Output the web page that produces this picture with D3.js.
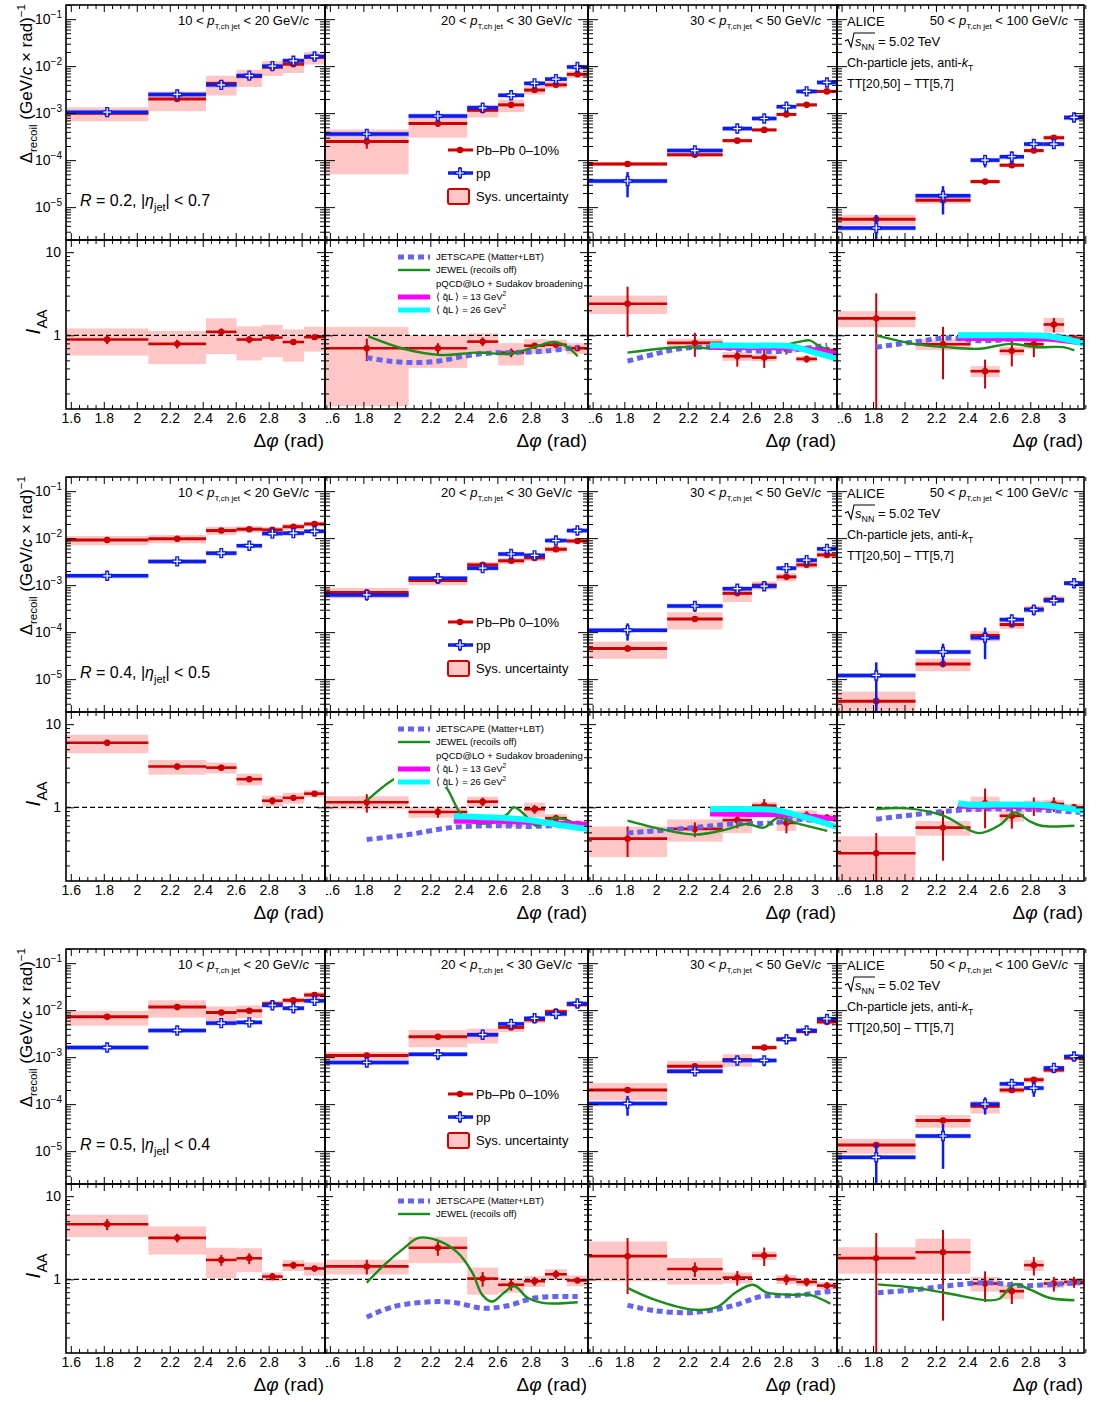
<!DOCTYPE html>
<html><head><meta charset="utf-8">
<script src="https://cdn.jsdelivr.net/npm/d3@7"></script>
<style>body{margin:0;background:#fff}</style>
</head><body>
<script>
// ---------------- DATA ----------------
const binEdges = [Math.PI/2, 2.07, 2.42, 2.605, 2.76, 2.885, 3.015, Math.PI];
const xMajor = [1.6,1.8,2,2.2,2.4,2.6,2.8,3];
const xMajorLabels = ["1.6","1.8","2","2.2","2.4","2.6","2.8","3"];
const ptLo = ["10","20","30","50"];
const ptHi = ["20","30","50","100"];
const rLabels = ["0.2","0.4","0.5"];
const etaLabels = ["0.7","0.5","0.4"];
const yTopMajor = [1e-5,1e-4,1e-3,1e-2,1e-1];
const yTopExp = ["−5","−4","−3","−2","−1"];
const yBotMajor = [1,10];
const yBotLabels = ["1","10"];

// R = 0.2
const R02_PbPb = [
 [1.0e-3,2.0e-3,4.3e-3,6.0e-3,9.5e-3,1.1e-2,1.55e-2],
 [2.5e-4,6.0e-4,1.15e-3,1.5e-3,3.1e-3,4.0e-3,6.7e-3],
 [8.3e-5,1.3e-4,2.6e-4,4.4e-4,9.4e-4,1.5e-3,2.9e-3],
 [5.5e-6,1.4e-5,3.5e-5,7.8e-5,1.6e-4,3.0e-4,8.0e-4]];
const R02_PbPbStat = [
 [0.1,0.1,0.1,0.08,0.08,0.08,0.06],
 [0.3,0.15,0.12,0.1,0.08,0.08,0.06],
 [0.08,0.15,0.1,0.1,0.08,0.06,0.06],
 [0.15,0.15,0.1,0.1,0.1,0.12,0.1]];
const R02_PbPbSys = [
 [0.33,0.45,0.45,0.4,0.35,0.35,0.3],
 [0.8,0.5,0.3,0.3,0.2,0.15,0.17],
 [0.1,0.1,0.1,0.08,0.08,0.08,0.08],
 [0.25,0.15,0.1,0.1,0.1,0.12,0.12]];
const R02_pp = [
 [1.05e-3,2.5e-3,4.0e-3,6.3e-3,1.0e-2,1.3e-2,1.6e-2],
 [3.6e-4,8.7e-4,1.3e-3,2.4e-3,4.3e-3,5.3e-3,9.6e-3],
 [3.6e-5,1.6e-4,4.7e-4,7.7e-4,1.37e-3,2.9e-3,4.5e-3],
 [3.6e-6,1.75e-5,1.0e-4,1.18e-4,2.2e-4,2.2e-4,8.1e-4]];
const R02_ppStat = [
 [0.1,0.1,0.1,0.08,0.08,0.08,0.08],
 [0.25,0.15,0.1,0.1,0.08,0.08,0.08],
 [0.55,0.25,0.15,0.12,0.1,0.08,0.08],
 [0.9,0.6,0.3,0.3,0.2,0.2,0.1]];
const R02_ppSys = [
 [0.12,0.12,0.12,0.12,0.12,0.12,0.12],
 [0.12,0.12,0.12,0.12,0.12,0.12,0.12],
 [0.12,0.12,0.12,0.12,0.12,0.12,0.12],
 [0.12,0.12,0.12,0.12,0.12,0.12,0.12]];
const R02_IAA = [
 [0.89,0.79,1.1,0.89,0.94,0.83,0.95],
 [0.70,0.70,0.84,0.62,0.75,0.77,0.70],
 [2.4,0.81,0.56,0.54,0.69,0.52,0.66],
 [1.6,0.78,0.37,0.65,0.78,1.35,0.92]];
const R02_IAAStat = [
 [0.12,0.12,0.1,0.1,0.08,0.06,0.06],
 [0.3,0.15,0.12,0.12,0.08,0.08,0.06],
 [0.6,0.32,0.25,0.25,0.15,0.1,0.1],
 [1.0,0.62,0.38,0.35,0.3,0.2,0.1]];
const R02_IAASys = [
 [0.36,0.43,0.46,0.44,0.42,0.42,0.33],
 [0.8,0.42,0.25,0.3,0.2,0.15,0.15],
 [0.25,0.12,0.12,0.1,0.1,0.08,0.08],
 [0.22,0.15,0.15,0.12,0.12,0.2,0.1]];
const R02_JETSCAPE = [null,
 [[1.82,0.54],[1.95,0.49],[2.1,0.47],[2.25,0.49],[2.4,0.56],[2.55,0.61],[2.7,0.62],[2.9,0.65],[3.08,0.72]],
 [[1.82,0.49],[2.0,0.6],[2.15,0.69],[2.36,0.72],[2.57,0.66],[2.78,0.64],[2.99,0.72],[3.08,0.76]],
 [[1.82,0.72],[2.06,0.83],[2.27,0.93],[2.48,0.86],[2.7,0.91],[2.84,1.0],[3.01,0.95],[3.12,0.84]]];
const R02_JEWEL = [null,
 [[1.83,0.97],[2.04,0.69],[2.26,0.58],[2.48,0.62],[2.68,0.6],[2.82,0.72],[2.94,0.83],[3.02,0.72],[3.08,0.56]],
 [[1.82,0.62],[2.15,0.72],[2.34,0.7],[2.6,0.72],[2.78,0.75],[2.91,0.84],[2.97,0.87],[3.04,0.72],[3.12,0.65]],
 [[1.82,1.0],[2.06,0.79],[2.27,0.72],[2.48,0.69],[2.67,0.79],[2.84,0.72],[3.01,0.72],[3.08,0.66]]];
const R02_Q13 = [null, null,
 [[2.34,0.72],[2.6,0.71],[2.9,0.7],[3.02,0.66],[3.14,0.6]],
 [[2.34,0.92],[2.6,0.91],[2.9,0.9],[3.14,0.8]]];
const R02_Q26 = [null, null,
 [[2.34,0.76],[2.6,0.75],[2.85,0.74],[3.0,0.62],[3.14,0.53]],
 [[2.34,1.0],[2.6,1.0],[2.9,0.98],[3.14,0.8]]];

// R = 0.4
const R04_PbPb = [
 [9.1e-3,9.7e-3,1.45e-2,1.55e-2,1.5e-2,1.75e-2,2.0e-2],
 [7.0e-4,1.25e-3,2.7e-3,3.3e-3,3.8e-3,5.8e-3,8.7e-3],
 [4.5e-5,1.9e-4,6.7e-4,1.0e-3,1.5e-3,2.7e-3,4.4e-3],
 [3.4e-6,2.1e-5,8.5e-5,1.45e-4,3.1e-4,5.0e-4,1.1e-3]];
const R04_PbPbStat = [
 [0.1,0.1,0.08,0.06,0.06,0.06,0.05],
 [0.15,0.12,0.1,0.08,0.08,0.08,0.06],
 [0.15,0.1,0.1,0.1,0.08,0.06,0.06],
 [0.3,0.15,0.12,0.1,0.1,0.1,0.08]];
const R04_PbPbSys = [
 [0.22,0.2,0.2,0.15,0.15,0.15,0.12],
 [0.25,0.2,0.15,0.15,0.15,0.15,0.12],
 [0.4,0.4,0.35,0.2,0.2,0.15,0.15],
 [0.6,0.3,0.25,0.2,0.15,0.15,0.1]];
const R04_pp = [
 [1.58e-3,3.2e-3,4.8e-3,6.9e-3,1.25e-2,1.28e-2,1.4e-2],
 [6.2e-4,1.4e-3,2.3e-3,4.6e-3,4.3e-3,8.9e-3,1.45e-2],
 [1.1e-4,3.6e-4,8.4e-4,9.5e-4,2.3e-3,3.4e-3,5.9e-3],
 [1.2e-5,3.8e-5,7.6e-5,1.85e-4,3.0e-4,4.7e-4,1.1e-3]];
const R04_ppStat = [
 [0.08,0.08,0.08,0.08,0.08,0.08,0.08],
 [0.25,0.15,0.15,0.12,0.12,0.1,0.08],
 [0.4,0.25,0.12,0.12,0.1,0.1,0.08],
 [0.9,0.5,0.65,0.3,0.25,0.15,0.1]];
const R04_ppSys = R02_ppSys;
const R04_IAA = [
 [5.97,3.09,3.0,2.18,1.2,1.3,1.46],
 [1.15,0.88,1.17,0.68,0.95,0.74,0.63],
 [0.42,0.55,0.7,1.05,0.65,0.8,0.75],
 [0.28,0.57,1.12,0.79,1.05,1.1,1.0]];
const R04_IAAStat = [
 [0.08,0.08,0.08,0.08,0.1,0.08,0.06],
 [0.25,0.15,0.12,0.12,0.12,0.1,0.06],
 [0.4,0.2,0.2,0.2,0.25,0.12,0.1],
 [0.75,0.6,0.5,0.3,0.25,0.2,0.1]];
const R04_IAASys = [
 [0.25,0.2,0.15,0.16,0.15,0.15,0.1],
 [0.18,0.15,0.15,0.15,0.2,0.12,0.1],
 [0.4,0.3,0.3,0.1,0.2,0.15,0.1],
 [0.6,0.2,0.2,0.15,0.15,0.12,0.1]];
const R04_JETSCAPE = [null,
 [[1.82,0.41],[2.07,0.47],[2.32,0.57],[2.57,0.6],[2.83,0.59],[3.12,0.64]],
 [[1.82,0.49],[2.24,0.57],[2.48,0.63],[2.75,0.65],[2.88,0.72],[3.08,0.65]],
 [[1.82,0.72],[2.05,0.81],[2.3,0.91],[2.5,0.95],[2.75,0.95],[2.95,0.91],[3.12,0.87]]];
const R04_JEWEL = [null,
 [[1.82,1.2],[1.97,2.1],[2.1,2.8],[2.22,2.6],[2.3,1.68],[2.41,0.72],[2.57,0.65],[2.66,0.83],[2.7,1.0],[2.77,0.79],[2.83,0.6],[2.95,0.75],[3.08,0.62]],
 [[1.82,0.69],[1.99,0.57],[2.24,0.47],[2.44,0.54],[2.57,0.63],[2.68,0.57],[2.77,0.75],[2.88,0.65],[3.08,0.52]],
 [[1.82,0.95],[2.02,0.97],[2.25,0.79],[2.47,0.49],[2.61,0.62],[2.7,0.87],[2.79,0.69],[2.87,0.6],[3.08,0.6]]];
const R04_Q13 = [null,
 [[2.34,0.68],[2.6,0.68],[2.8,0.66],[3.14,0.62]],
 [[2.34,0.83],[2.6,0.82],[2.9,0.8],[3.14,0.72]],
 [[2.34,1.03],[2.6,1.02],[2.9,1.0],[3.14,0.93]]];
const R04_Q26 = [null,
 [[2.34,0.78],[2.6,0.75],[2.8,0.7],[3.0,0.6],[3.14,0.55]],
 [[2.34,0.95],[2.6,0.95],[2.75,0.93],[2.95,0.75],[3.14,0.58]],
 [[2.34,1.12],[2.4,1.08],[2.6,1.08],[2.9,1.05],[3.14,0.9]]];

// R = 0.5
const R05_PbPb = [
 [7.2e-3,1.16e-2,8.9e-3,9.7e-3,1.37e-2,1.62e-2,2.1e-2],
 [1.08e-3,2.7e-3,3.0e-3,4.3e-3,6.2e-3,9.3e-3,1.31e-2],
 [2.0e-4,6.4e-4,8.9e-4,1.6e-3,2.4e-3,3.5e-3,5.6e-3],
 [1.35e-5,4.5e-5,9.0e-5,2.0e-4,3.3e-4,5.3e-4,9.6e-4]];
const R05_PbPbStat = [
 [0.1,0.08,0.08,0.08,0.06,0.06,0.06],
 [0.1,0.1,0.08,0.08,0.08,0.06,0.05],
 [0.1,0.1,0.1,0.08,0.08,0.08,0.06],
 [0.15,0.12,0.12,0.12,0.1,0.1,0.1]];
const R05_PbPbSys = [
 [0.35,0.4,0.35,0.3,0.15,0.15,0.15],
 [0.2,0.4,0.35,0.2,0.15,0.12,0.1],
 [0.4,0.3,0.3,0.12,0.12,0.1,0.1],
 [0.35,0.3,0.3,0.15,0.15,0.12,0.1]];
const R05_pp = [
 [1.6e-3,3.7e-3,5.3e-3,5.5e-3,1.27e-2,1.1e-2,1.58e-2],
 [7.7e-4,1.15e-3,3.0e-3,5.1e-3,6.7e-3,8.3e-3,1.38e-2],
 [1.03e-4,5.0e-4,8.5e-4,8.5e-4,2.4e-3,3.7e-3,6.5e-3],
 [7.4e-6,2.1e-5,1.0e-4,2.7e-4,2.2e-4,5.9e-4,1.03e-3]];
const R05_ppStat = [
 [0.06,0.06,0.08,0.08,0.08,0.06,0.06],
 [0.2,0.25,0.15,0.15,0.1,0.1,0.08],
 [0.45,0.2,0.15,0.25,0.1,0.1,0.08],
 [0.95,0.8,0.4,0.25,0.35,0.15,0.1]];
const R05_ppSys = R02_ppSys;
const R05_IAA = [
 [4.6,3.15,1.71,1.79,1.08,1.48,1.35],
 [1.43,2.4,1.02,0.86,0.95,1.15,0.97],
 [1.9,1.33,1.05,1.93,1.0,0.93,0.84],
 [1.8,2.12,0.89,0.72,1.48,0.89,0.93]];
const R05_IAAStat = [
 [0.15,0.12,0.15,0.15,0.1,0.1,0.08],
 [0.2,0.2,0.2,0.15,0.12,0.12,0.08],
 [0.65,0.2,0.2,0.25,0.15,0.12,0.1],
 [1.0,0.85,0.4,0.3,0.25,0.2,0.15]];
const R05_IAASys = [
 [0.3,0.37,0.4,0.32,0.12,0.15,0.18],
 [0.2,0.35,0.36,0.2,0.15,0.15,0.15],
 [0.5,0.35,0.15,0.12,0.12,0.1,0.1],
 [0.35,0.45,0.2,0.2,0.15,0.12,0.1]];
const R05_JETSCAPE = [null,
 [[1.82,0.35],[1.98,0.47],[2.24,0.54],[2.36,0.52],[2.51,0.45],[2.66,0.48],[2.83,0.6],[3.08,0.62]],
 [[1.82,0.49],[1.99,0.42],[2.24,0.4],[2.5,0.49],[2.66,0.62],[2.88,0.64],[3.1,0.72]],
 [[1.83,0.69],[2.07,0.75],[2.29,0.84],[2.52,0.91],[2.74,0.84],[2.95,0.87],[3.12,0.91]]];
const R05_JEWEL = [null,
 [[1.82,0.91],[1.92,1.46],[2.05,2.44],[2.13,3.15],[2.24,2.95],[2.36,2.12],[2.45,1.21],[2.51,0.65],[2.57,0.54],[2.64,0.69],[2.7,0.83],[2.78,0.6],[2.87,0.52],[3.08,0.53]],
 [[1.82,0.79],[1.99,0.57],[2.24,0.43],[2.39,0.47],[2.5,0.69],[2.61,0.86],[2.7,0.69],[2.88,0.65],[2.97,0.65],[3.1,0.51]],
 [[1.83,0.87],[2.07,0.79],[2.29,0.67],[2.52,0.56],[2.6,0.58],[2.7,0.87],[2.8,0.75],[2.92,0.6],[3.08,0.56]]];
const R05_Q13 = [null,null,null,null];
const R05_Q26 = [null,null,null,null];

// ---------------- SETUP ----------------
const FONT = "'Liberation Sans', Arial, Helvetica, sans-serif";
const RED = "#cc0000", BLUE = "#0a1eee", GREEN = "#1a8c1a", JSC = "#6464f0", MAG = "#ff00ff", CYAN = "#00ffff";
const cols = [[66,325],[325,588],[588,837],[837,1084]];
const BLOCK = 472;

const sets = [
 {pb:R02_PbPb,pbS:R02_PbPbStat,pbY:R02_PbPbSys,pp:R02_pp,ppS:R02_ppStat,ppY:R02_ppSys,iaa:R02_IAA,iaaS:R02_IAAStat,iaaY:R02_IAASys,js:R02_JETSCAPE,jw:R02_JEWEL,q13:R02_Q13,q26:R02_Q26,fullLeg:true},
 {pb:R04_PbPb,pbS:R04_PbPbStat,pbY:R04_PbPbSys,pp:R04_pp,ppS:R04_ppStat,ppY:R04_ppSys,iaa:R04_IAA,iaaS:R04_IAAStat,iaaY:R04_IAASys,js:R04_JETSCAPE,jw:R04_JEWEL,q13:R04_Q13,q26:R04_Q26,fullLeg:true},
 {pb:R05_PbPb,pbS:R05_PbPbStat,pbY:R05_PbPbSys,pp:R05_pp,ppS:R05_ppStat,ppY:R05_ppSys,iaa:R05_IAA,iaaS:R05_IAAStat,iaaY:R05_IAASys,js:R05_JETSCAPE,jw:R05_JEWEL,q13:R05_Q13,q26:R05_Q26,fullLeg:false}
];

const svg = d3.select("body").append("svg").attr("width",1098).attr("height",1402)
  .style("background","#fff").attr("font-family",FONT);
const defs = svg.append("defs");

function rich(parent, x, y, parts, size, anchor) {
  const t = parent.append("text").attr("x",x).attr("y",y).attr("font-size",size)
    .attr("text-anchor",anchor||"start").attr("font-family",FONT).attr("fill","#000");
  let shift = 0;
  parts.forEach(p => {
    const s = (typeof p === "string") ? {t:p} : p;
    const target = s.sub ? size*0.32 : (s.sup ? -size*0.42 : 0);
    const ts = t.append("tspan").text(s.t);
    if (target - shift !== 0) ts.attr("dy", target - shift);
    shift = target;
    if (s.sub || s.sup) ts.attr("font-size", size*(s.scale||0.68));
    if (s.it) ts.attr("font-style","italic");
  });
  return t;
}

function tickSet(g, axisFn, scale, transform, vals, len, fmt, pad) {
  const a = axisFn(scale).tickValues(vals).tickSize(-len).tickPadding(pad||3)
    .tickFormat(fmt || (() => ""));
  const gg = g.append("g").attr("transform", transform).call(a);
  gg.select(".domain").remove();
  gg.selectAll("line").attr("stroke","#000").attr("stroke-width",1);
  return gg;
}

function ppMarker(g, cx, cy) {
  g.append("path").attr("d",`M${cx-1.3},${cy-4.5}h2.6v3.2h3.2v2.6h-3.2v3.2h-2.6v-3.2h-3.2v-2.6h3.2z`)
    .attr("fill","#fff").attr("stroke",BLUE).attr("stroke-width",1.4);
}

const xMinor = d3.range(1.6, 3.16, 0.05).filter(v => !xMajor.some(m => Math.abs(m - v) < 1e-6));
const yTopMinor = [];
for (let e = -6; e <= -1; e++) for (let m = 2; m <= 9; m++) { const v = m*Math.pow(10,e); if (v >= 2e-6 && v <= 0.2) yTopMinor.push(v); }
const yBotMinor = [0.2,0.3,0.4,0.5,0.6,0.7,0.8,0.9,2,3,4,5,6,7,8,9];

const lineGen = (x, y) => d3.line().x(d => x(d[0])).y(d => y(d[1])).curve(d3.curveCatmullRom.alpha(0.5));

sets.forEach((ds, b) => {
  const dy = b*BLOCK;
  const tY0 = 5+dy, tY1 = 240+dy, bY0 = 240+dy, bY1 = 409+dy;

  cols.forEach((cr, c) => {
    const x = d3.scaleLinear().domain([Math.PI/2, Math.PI]).range(cr);
    const yT = d3.scaleLog().domain([2e-6, 0.2]).range([tY1, tY0]).clamp(true);
    const yB = d3.scaleLog().domain([0.13, 14]).range([bY1, bY0]).clamp(true);
    const lo = v => Math.max(v, 1e-12);
    const centers = d3.range(7).map(i => (binEdges[i] + binEdges[i+1]) / 2);

    const idT = `ct${b}${c}`, idB = `cb${b}${c}`;
    defs.append("clipPath").attr("id",idT).append("rect").attr("x",cr[0]).attr("y",tY0).attr("width",cr[1]-cr[0]).attr("height",tY1-tY0);
    defs.append("clipPath").attr("id",idB).append("rect").attr("x",cr[0]).attr("y",bY0).attr("width",cr[1]-cr[0]).attr("height",bY1-bY0);

    // ---------- TOP PANEL ----------
    const gT = svg.append("g").attr("clip-path",`url(#${idT})`);
    const pb = ds.pb[c], pbS = ds.pbS[c], pbY = ds.pbY[c];
    const pp = ds.pp[c], ppS = ds.ppS[c], ppY = ds.ppY[c];
    pb.forEach((v,i) => {
      gT.append("rect").attr("x",x(binEdges[i])).attr("width",x(binEdges[i+1])-x(binEdges[i]))
        .attr("y",yT(v*(1+pbY[i]))).attr("height",yT(lo(v*(1-pbY[i])))-yT(v*(1+pbY[i])))
        .attr("fill","#ff8080").attr("fill-opacity",0.45);
    });
    pp.forEach((v,i) => {
      gT.append("rect").attr("x",x(binEdges[i])).attr("width",x(binEdges[i+1])-x(binEdges[i]))
        .attr("y",yT(v*(1+ppY[i]))).attr("height",yT(lo(v*(1-ppY[i])))-yT(v*(1+ppY[i])))
        .attr("fill","#6666ff").attr("fill-opacity",0.35);
    });
    pb.forEach((v,i) => {
      gT.append("line").attr("x1",x(binEdges[i])).attr("x2",x(binEdges[i+1])).attr("y1",yT(v)).attr("y2",yT(v)).attr("stroke",RED).attr("stroke-width",3);
      gT.append("line").attr("x1",x(centers[i])).attr("x2",x(centers[i])).attr("y1",yT(v*(1+pbS[i]))).attr("y2",yT(lo(v*(1-pbS[i])))).attr("stroke",RED).attr("stroke-width",2);
      gT.append("circle").attr("cx",x(centers[i])).attr("cy",yT(v)).attr("r",3.3).attr("fill",RED);
    });
    pp.forEach((v,i) => {
      gT.append("line").attr("x1",x(binEdges[i])).attr("x2",x(binEdges[i+1])).attr("y1",yT(v)).attr("y2",yT(v)).attr("stroke",BLUE).attr("stroke-width",3.5);
      gT.append("line").attr("x1",x(centers[i])).attr("x2",x(centers[i])).attr("y1",yT(v*(1+ppS[i]))).attr("y2",yT(lo(v*(1-ppS[i])))).attr("stroke",BLUE).attr("stroke-width",2.5);
      ppMarker(gT, x(centers[i]), yT(v));
    });

    // ---------- BOTTOM PANEL ----------
    const gB = svg.append("g").attr("clip-path",`url(#${idB})`);
    const ia = ds.iaa[c], iaS = ds.iaaS[c], iaY = ds.iaaY[c];
    ia.forEach((v,i) => {
      gB.append("rect").attr("x",x(binEdges[i])).attr("width",x(binEdges[i+1])-x(binEdges[i]))
        .attr("y",yB(v*(1+iaY[i]))).attr("height",yB(lo(v*(1-iaY[i])))-yB(v*(1+iaY[i])))
        .attr("fill","#ff8080").attr("fill-opacity",0.45);
    });
    gB.append("line").attr("x1",cr[0]).attr("x2",cr[1]).attr("y1",yB(1)).attr("y2",yB(1))
      .attr("stroke","#000").attr("stroke-width",1.2).attr("stroke-dasharray","5,3");
    ia.forEach((v,i) => {
      gB.append("line").attr("x1",x(binEdges[i])).attr("x2",x(binEdges[i+1])).attr("y1",yB(v)).attr("y2",yB(v)).attr("stroke",RED).attr("stroke-width",2.6);
      gB.append("line").attr("x1",x(centers[i])).attr("x2",x(centers[i])).attr("y1",yB(v*(1+iaS[i]))).attr("y2",yB(lo(v*(1-iaS[i])))).attr("stroke",RED).attr("stroke-width",2);
      gB.append("circle").attr("cx",x(centers[i])).attr("cy",yB(v)).attr("r",3.2).attr("fill",RED);
    });
    const lg = lineGen(x, yB);
    if (ds.js[c]) gB.append("path").attr("d",lg(ds.js[c])).attr("fill","none").attr("stroke",JSC).attr("stroke-width",5).attr("stroke-dasharray","6,4");
    if (ds.jw[c]) gB.append("path").attr("d",lg(ds.jw[c])).attr("fill","none").attr("stroke",GREEN).attr("stroke-width",2.4);
    if (ds.q13[c]) gB.append("path").attr("d",lg(ds.q13[c])).attr("fill","none").attr("stroke",MAG).attr("stroke-width",5);
    if (ds.q26[c]) gB.append("path").attr("d",lg(ds.q26[c])).attr("fill","none").attr("stroke",CYAN).attr("stroke-width",6);

    // ---------- LEGENDS ----------
    if (c === 1) {
      const L = svg.append("g");
      L.append("line").attr("x1",448).attr("x2",473).attr("y1",150+dy).attr("y2",150+dy).attr("stroke",RED).attr("stroke-width",3);
      L.append("circle").attr("cx",460).attr("cy",150+dy).attr("r",3.3).attr("fill",RED);
      rich(L, 476, 155+dy, ["Pb–Pb 0–10%"], 13);
      L.append("line").attr("x1",448).attr("x2",473).attr("y1",173+dy).attr("y2",173+dy).attr("stroke",BLUE).attr("stroke-width",3.5);
      L.append("line").attr("x1",460).attr("x2",460).attr("y1",167+dy).attr("y2",179+dy).attr("stroke",BLUE).attr("stroke-width",2.5);
      ppMarker(L, 460, 173+dy);
      rich(L, 476, 178+dy, ["pp"], 13);
      L.append("rect").attr("x",448).attr("y",189+dy).attr("width",21).attr("height",15).attr("rx",2)
        .attr("fill","#ffc6c6").attr("stroke",RED).attr("stroke-width",2);
      rich(L, 476, 201+dy, ["Sys. uncertainty"], 13);

      const B = svg.append("g");
      const h = ds.fullLeg ? 67 : 28;
      B.append("rect").attr("x",394).attr("y",248+dy).attr("width",190).attr("height",h).attr("fill","#fff");
      B.append("line").attr("x1",398).attr("x2",430).attr("y1",257+dy).attr("y2",257+dy).attr("stroke",JSC).attr("stroke-width",5).attr("stroke-dasharray","6,4");
      rich(B, 436, 260+dy, ["JETSCAPE (Matter+LBT)"], 9.5);
      B.append("line").attr("x1",398).attr("x2",430).attr("y1",270+dy).attr("y2",270+dy).attr("stroke",GREEN).attr("stroke-width",2.4);
      rich(B, 436, 273+dy, ["JEWEL (recoils off)"], 9.5);
      if (ds.fullLeg) {
        rich(B, 436, 287+dy, ["pQCD@LO + Sudakov broadening"], 9.5);
        B.append("rect").attr("x",398).attr("y",294.5+dy).attr("width",32).attr("height",5).attr("fill",MAG);
        rich(B, 436, 300+dy, ["⟨ q̂L ⟩ = 13 GeV", {t:"2",sup:true}], 9.5);
        B.append("rect").attr("x",398).attr("y",307.5+dy).attr("width",32).attr("height",5).attr("fill",CYAN);
        rich(B, 436, 313+dy, ["⟨ q̂L ⟩ = 26 GeV", {t:"2",sup:true}], 9.5);
      }
    }

    // ---------- AXES / TICKS ----------
    const A = svg.append("g");
    tickSet(A, d3.axisTop, x, `translate(0,${tY0})`, xMajor, 7);
    tickSet(A, d3.axisTop, x, `translate(0,${tY0})`, xMinor, 4);
    tickSet(A, d3.axisBottom, x, `translate(0,${tY1})`, xMajor, 7);
    tickSet(A, d3.axisBottom, x, `translate(0,${tY1})`, xMinor, 4);
    tickSet(A, d3.axisLeft, yT, `translate(${cr[0]},0)`, yTopMajor, 10);
    tickSet(A, d3.axisLeft, yT, `translate(${cr[0]},0)`, yTopMinor, 5);
    tickSet(A, d3.axisRight, yT, `translate(${cr[1]},0)`, yTopMajor, 10);
    tickSet(A, d3.axisRight, yT, `translate(${cr[1]},0)`, yTopMinor, 5);
    tickSet(A, d3.axisTop, x, `translate(0,${bY0})`, xMajor, 7);
    tickSet(A, d3.axisTop, x, `translate(0,${bY0})`, xMinor, 4);
    const idL = `cl${b}${c}`;
    defs.append("clipPath").attr("id",idL).append("rect")
      .attr("x",cr[0] + (c===0 ? -30 : 1)).attr("y",bY1-12).attr("width",cr[1]-cr[0]+40).attr("height",40);
    const xl = tickSet(A.append("g").attr("clip-path",`url(#${idL})`), d3.axisBottom, x, `translate(0,${bY1})`, xMajor, 7, (d,i) => xMajorLabels[i], 4);
    xl.selectAll("text").attr("font-size",14).attr("font-family",FONT).attr("fill","#000");
    tickSet(A, d3.axisBottom, x, `translate(0,${bY1})`, xMinor, 4);
    tickSet(A, d3.axisLeft, yB, `translate(${cr[0]},0)`, yBotMajor, 8);
    tickSet(A, d3.axisLeft, yB, `translate(${cr[0]},0)`, yBotMinor, 4);
    tickSet(A, d3.axisRight, yB, `translate(${cr[1]},0)`, yBotMajor, 8);
    tickSet(A, d3.axisRight, yB, `translate(${cr[1]},0)`, yBotMinor, 4);
    A.append("rect").attr("x",cr[0]).attr("y",tY0).attr("width",cr[1]-cr[0]).attr("height",tY1-tY0).attr("fill","none").attr("stroke","#000").attr("stroke-width",1.6);
    A.append("rect").attr("x",cr[0]).attr("y",bY0).attr("width",cr[1]-cr[0]).attr("height",bY1-bY0).attr("fill","none").attr("stroke","#000").attr("stroke-width",1.6);

    rich(A, cr[1]-1, 447+dy, ["Δ", {t:"φ",it:true}, " (rad)"], 19, "end");

    rich(A, cr[1]-16, 25+dy, [ptLo[c]+" < ", {t:"p",it:true}, {t:"T,ch jet",sub:true,scale:0.62}, " < "+ptHi[c]+" GeV/", {t:"c",it:true}], 13, "end");

    if (c === 0) {
      yTopMajor.forEach((v,i) => {
        const t = A.append("text").attr("x",62).attr("y",yT(v)+5).attr("text-anchor","end").attr("font-size",14).attr("font-family",FONT);
        t.append("tspan").text("10");
        t.append("tspan").text(yTopExp[i]).attr("dy",-6).attr("font-size",10);
      });
      yBotMajor.forEach((v,i) => {
        A.append("text").attr("x",61).attr("y",yB(v)+5).attr("text-anchor","end").attr("font-size",14).attr("font-family",FONT).text(yBotLabels[i]);
      });
      rich(A, 0, 0, ["Δ", {t:"recoil",sub:true}, " (GeV/", {t:"c",it:true}, " × rad)", {t:"−1",sup:true}], 17, "end")
        .attr("transform",`translate(32,${4+dy}) rotate(-90)`);
      rich(A, 0, 0, [{t:"I",it:true}, {t:"AA",sub:true}], 21, "middle")
        .attr("transform",`translate(40,${322+dy}) rotate(-90)`);
      rich(A, 80, 206+dy, [{t:"R",it:true}, " = "+rLabels[b]+", |", {t:"η",it:true}, {t:"jet",sub:true}, "| < "+etaLabels[b]], 16);
    }
    if (c === 3) {
      rich(A, 847, 26+dy, ["ALICE"], 13);
      A.append("path").attr("d",`M845,${41+dy} L848,${39.5+dy} L851,${47+dy} L854,${33+dy} L875,${33+dy}`)
        .attr("fill","none").attr("stroke","#000").attr("stroke-width",1.1);
      rich(A, 855, 46+dy, [{t:"s",it:true}, {t:"NN",sub:true}, " = 5.02 TeV"], 13);
      rich(A, 847, 67+dy, ["Ch-particle jets, anti-", {t:"k",it:true}, {t:"T",sub:true}], 12.5);
      rich(A, 847, 88+dy, ["TT[20,50] – TT[5,7]"], 12.5);
    }
  });
});
</script>
</body></html>
